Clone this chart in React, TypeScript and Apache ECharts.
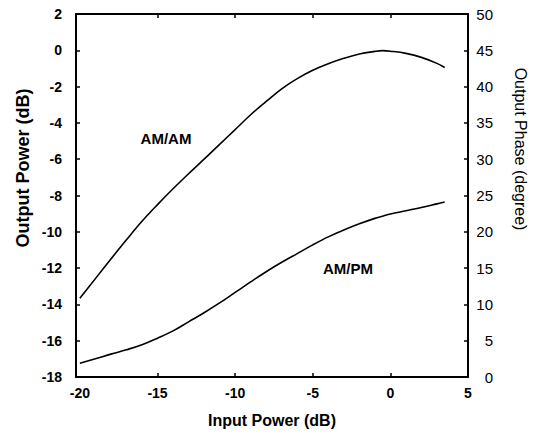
import React, { useEffect, useRef } from "react";
import * as echarts from "echarts";

const inputPower = [-20, -19, -18, -17, -16, -15, -14, -13, -12, -11, -10, -9, -8, -7, -6, -5, -4, -3, -2, -1, -0.5, 0, 1, 2, 3, 3.5];
const amAm = [-13.66, -12.58, -11.5, -10.44, -9.42, -8.5, -7.63, -6.8, -6.0, -5.18, -4.37, -3.55, -2.82, -2.12, -1.56, -1.1, -0.74, -0.44, -0.2, -0.06, -0.02, -0.05, -0.17, -0.39, -0.72, -0.95];
const amPm = [1.9, 2.5, 3.15, 3.75, 4.45, 5.35, 6.35, 7.6, 8.85, 10.2, 11.65, 13.1, 14.5, 15.8, 17.0, 18.2, 19.3, 20.25, 21.1, 21.85, 22.15, 22.45, 22.9, 23.35, 23.85, 24.1];
const xTicks = [-20, -15, -10, -5, 0, 5];
const xInnerTicks = [-15, -10, -5, 0];

const FONT = "'Liberation Sans', Arial, sans-serif";

export default function App() {
  const ref = useRef<HTMLDivElement>(null);
  useEffect(() => {
    if (!ref.current) return;
    const chart = echarts.init(ref.current, null, { renderer: "svg" });
    const axisLine = { show: true, onZero: false, lineStyle: { color: "#000", width: 2 } };
    const tick = { show: true, inside: true, length: 4, lineStyle: { color: "#000", width: 1.5 } };
    chart.setOption({
      animation: false,
      backgroundColor: "#fff",
      grid: { left: 76, right: 69, top: 14, bottom: 59 },
      xAxis: [
        {
          type: "value",
          min: -20.25,
          max: 5,
          position: "bottom",
          axisLine,
          splitLine: { show: false },
          axisTick: { ...tick, customValues: xInnerTicks },
          axisLabel: { customValues: xTicks, color: "#000", fontWeight: "bold", fontSize: 14, fontFamily: FONT, margin: 9 },
          name: "Input Power (dB)",
          nameLocation: "middle",
          nameGap: 35,
          nameTextStyle: { color: "#000", fontWeight: "bold", fontSize: 16, fontFamily: FONT },
        },
        {
          type: "value",
          min: -20.25,
          max: 5,
          position: "top",
          axisLine,
          splitLine: { show: false },
          axisTick: { ...tick, customValues: xInnerTicks },
          axisLabel: { show: false },
        },
      ],
      yAxis: [
        {
          type: "value",
          min: -18,
          max: 2,
          interval: 2,
          position: "left",
          axisLine,
          splitLine: { show: false },
          axisTick: tick,
          axisLabel: { color: "#000", fontWeight: "bold", fontSize: 14, fontFamily: FONT, margin: 14 },
        },
        {
          type: "value",
          min: 0,
          max: 50,
          interval: 5,
          position: "right",
          axisLine,
          splitLine: { show: false },
          axisTick: tick,
          axisLabel: { color: "#000", fontSize: 15, fontFamily: FONT, margin: 25, align: "right" },
        },
      ],
      series: [
        {
          name: "AM/AM",
          type: "line",
          xAxisIndex: 0,
          yAxisIndex: 0,
          smooth: 0.4,
          showSymbol: false,
          lineStyle: { color: "#000", width: 1.6 },
          data: inputPower.map((x, i) => [x, amAm[i]]),
        },
        {
          name: "AM/PM",
          type: "line",
          xAxisIndex: 0,
          yAxisIndex: 1,
          smooth: 0.4,
          showSymbol: false,
          lineStyle: { color: "#000", width: 1.6 },
          data: inputPower.map((x, i) => [x, amPm[i]]),
        },
      ],
      graphic: [
        { type: "text", x: 166, y: 138, style: { text: "AM/AM", fill: "#000", font: `bold 15px ${FONT}`, textAlign: "center", textVerticalAlign: "middle" } },
        { type: "text", x: 348, y: 268, style: { text: "AM/PM", fill: "#000", font: `bold 15px ${FONT}`, textAlign: "center", textVerticalAlign: "middle" } },
        { type: "text", x: 23, y: 168, rotation: Math.PI / 2, style: { text: "Output Power (dB)", fill: "#000", font: `bold 18px ${FONT}`, textAlign: "center", textVerticalAlign: "middle" } },
        { type: "text", x: 520, y: 149, rotation: -Math.PI / 2, style: { text: "Output Phase (degree)", fill: "#000", font: `16px ${FONT}`, textAlign: "center", textVerticalAlign: "middle" } },
      ],
    });
    return () => chart.dispose();
  }, []);
  return <div ref={ref} style={{ position: "fixed", left: 0, top: 0, width: 537, height: 436 }} />;
}
